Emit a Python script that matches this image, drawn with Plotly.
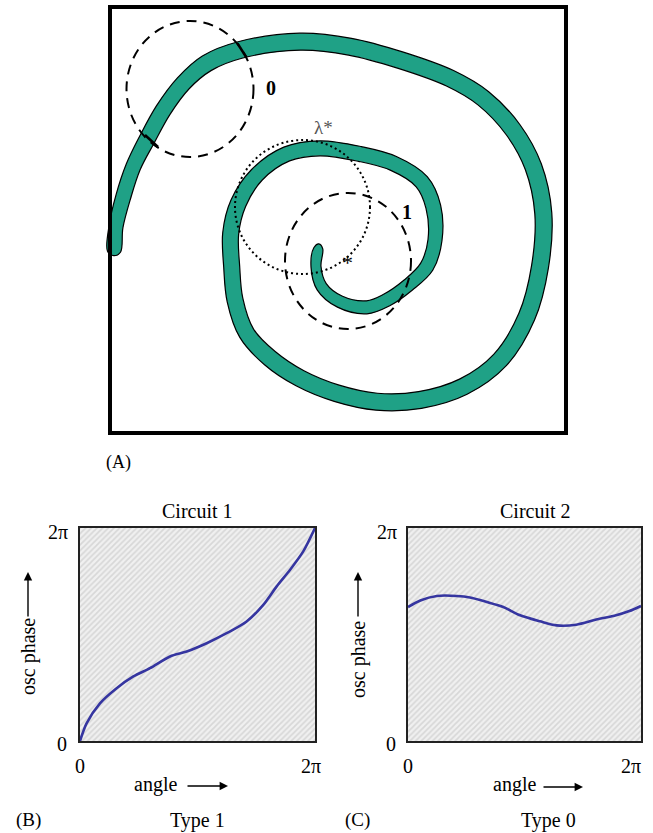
import numpy as np
import plotly.graph_objects as go

W, H = 653, 833
FONT = "Liberation Serif"

# ---------------- Panel A data (pixel-space diagram coordinates) ----------------
spiral_x = [318.3, 316, 321.7, 340, 366.7, 386.7, 408.3, 426.7, 435, 433.3, 421.7, 393.3, 360, 320,
            286.7, 256.7, 238.3, 230.7, 231.7, 235, 246.7, 270, 300, 336.7, 376.7, 420, 463.3, 500,
            526.7, 540, 543.3, 533.3, 513.3, 483.3, 450, 400, 350, 300, 240, 206.7, 183.3, 163.3,
            146.7, 133.3, 123.3, 116, 114]
spiral_y = [248.3, 266.7, 286.7, 301.7, 307.3, 300, 285, 266.7, 240, 206.7, 181.7, 163.3, 154, 148.3,
            154, 175, 203.3, 233.3, 266.7, 300, 333.3, 358.3, 378.3, 393.3, 401.7, 400, 386.7, 360,
            316.7, 266.7, 213.3, 166.7, 130, 98.3, 78.3, 60, 46.7, 41.7, 50, 63.3, 83.3, 110,
            140, 166.7, 196.7, 226.7, 251.7]
spiral_w = [9, 10, 11, 12, 13, 13, 13, 14, 14, 15, 15, 15, 15, 15,
            15, 15, 16, 16, 16, 16, 16, 17, 17, 17, 17, 17, 17, 17,
            17, 17, 17, 17, 17, 17, 17, 17, 17, 17, 17, 17, 16, 16,
            16, 15, 15, 14, 13]

box = dict(x0=110, y0=7, x1=566, y1=433)
circle_names = ["0", "1", "lambda"]
circle_cx = [190, 348, 302.5]
circle_cy = [89, 261, 207]
circle_rx = [63.5, 63, 67.5]
circle_ry = [68, 68, 67]
circle_dash = ["10px,7px", "10px,7px", "2px,3px"]

cut_x0 = [237.5, 145]
cut_y0 = [43.5, 135]
cut_x1 = [246.5, 158]
cut_y1 = [57.5, 147]

# ---------------- Panel B / C data (fractions of 2*pi) ----------------
b_angle = [0, 0.028, 0.085, 0.156, 0.227, 0.298, 0.383, 0.454, 0.539, 0.624, 0.709, 0.780, 0.837,
           0.894, 0.950, 1.0]
b_phase = [0, 0.083, 0.177, 0.248, 0.303, 0.342, 0.397, 0.420, 0.459, 0.506, 0.561, 0.639, 0.726,
           0.804, 0.890, 1.0]
c_angle = [0, 0.053, 0.124, 0.209, 0.266, 0.338, 0.409, 0.481, 0.566, 0.637, 0.722, 0.808, 0.893,
           0.950, 1.0]
c_phase = [0.629, 0.660, 0.681, 0.681, 0.674, 0.653, 0.629, 0.590, 0.562, 0.543, 0.546, 0.570,
           0.590, 0.610, 0.634]
tick_text = ["0", "2π"]

TEAL = "#1fa186"
CURVE = "#3535a0"

fig = go.Figure()

# ---- spiral band polygon built from centerline + widths ----
px = np.array(spiral_x)
py = np.array(spiral_y)
pw = np.array(spiral_w) / 2.0
tx = np.gradient(px)
ty = np.gradient(py)
tn = np.hypot(tx, ty)
tx, ty = tx / tn, ty / tn
nx, ny = -ty, tx
lx, ly = px + nx * pw, py + ny * pw
rx, ry = px - nx * pw, py - ny * pw
cap0 = (px[0] - tx[0] * pw[0], py[0] - ty[0] * pw[0])
cap1 = (px[-1] + tx[-1] * pw[-1] * 0.6, py[-1] + ty[-1] * pw[-1] * 0.6)
poly_x = [cap0[0]] + list(lx) + [cap1[0]] + list(rx[::-1]) + [cap0[0]]
poly_y = [cap0[1]] + list(ly) + [cap1[1]] + list(ry[::-1]) + [cap0[1]]
fig.add_trace(go.Scatter(x=poly_x, y=poly_y, mode="lines", fill="toself", fillcolor=TEAL,
                         line=dict(color="black", width=1.2, shape="spline", smoothing=1.0),
                         hoverinfo="skip", showlegend=False, xaxis="x", yaxis="y"))

# ---- hatched backgrounds for B and C ----
for xa, ya in [("x2", "y2"), ("x3", "y3")]:
    fig.add_trace(go.Scatter(x=[0, 1, 1, 0, 0], y=[0, 0, 1, 1, 0], mode="lines", fill="toself",
                             fillcolor="#f0f0f0",
                             fillpattern=dict(shape="/", fgcolor="#bdbdbd", bgcolor="#f0f0f0",
                                              size=4, solidity=0.4),
                             line=dict(width=0), hoverinfo="skip", showlegend=False,
                             xaxis=xa, yaxis=ya))

fig.add_trace(go.Scatter(x=b_angle, y=b_phase, mode="lines",
                         line=dict(color=CURVE, width=2.6, shape="spline", smoothing=0.8),
                         showlegend=False, xaxis="x2", yaxis="y2"))
fig.add_trace(go.Scatter(x=c_angle, y=c_phase, mode="lines",
                         line=dict(color=CURVE, width=2.6, shape="spline", smoothing=0.8),
                         showlegend=False, xaxis="x3", yaxis="y3"))

shapes = []
shapes.append(dict(type="rect", xref="x", yref="y", **box, line=dict(color="black", width=4)))
for cx, cy, rxx, ryy, d in zip(circle_cx, circle_cy, circle_rx, circle_ry, circle_dash):
    shapes.append(dict(type="circle", xref="x", yref="y", x0=cx - rxx, x1=cx + rxx,
                       y0=cy - ryy, y1=cy + ryy, line=dict(color="black", width=2, dash=d)))
for a, b, c, d in zip(cut_x0, cut_y0, cut_x1, cut_y1):
    shapes.append(dict(type="line", xref="x", yref="y", x0=a, y0=b, x1=c, y1=d,
                       line=dict(color="black", width=2.5)))

ann = []
def txt(x, y, s, size=20, color="black", **kw):
    ann.append(dict(x=x, y=y, xref="x", yref="y", text=s, showarrow=False,
                    font=dict(family=FONT, size=size, color=color), **kw))

txt(271, 88, "<b>0</b>", 20)
txt(407, 212, "<b>1</b>", 20)
txt(323, 127, "λ*", 19, color="#555555")
txt(347, 262, "*", 22)
txt(118, 462, "(A)", 18)

# panel B texts
txt(197, 511, "Circuit 1", 20)
txt(58, 532, "2π", 20)
txt(62, 744, "0", 20)
txt(80, 766, tick_text[0], 20)
txt(311, 766, tick_text[1], 20)
txt(155, 784, "angle", 20)
txt(28, 657, "osc phase", 20, textangle=-90)
txt(28, 820, "(B)", 19)
txt(197, 820, "Type 1", 20)
# panel C texts
txt(535, 511, "Circuit 2", 20)
txt(387, 532, "2π", 20)
txt(391, 744, "0", 20)
txt(408, 766, tick_text[0], 20)
txt(631, 766, tick_text[1], 20)
txt(514, 784, "angle", 20)
txt(358, 660, "osc phase", 20, textangle=-90)
txt(357, 820, "(C)", 19)
txt(548, 820, "Type 0", 20)

def arrow(x0, y0, x1, y1):
    ann.append(dict(x=x1, y=y1, ax=x0, ay=y0, xref="x", yref="y", axref="x", ayref="y",
                    text="", showarrow=True, arrowhead=2, arrowsize=1.2, arrowwidth=1.4,
                    arrowcolor="black"))

arrow(186, 786, 228, 786)
arrow(542, 787, 583, 787)
arrow(28, 618, 28, 572)
arrow(358, 618, 358, 572)

axcommon = dict(range=[0, 1], showgrid=False, zeroline=False, showticklabels=False,
                showline=True, mirror=True, linecolor="#222", linewidth=1.5, fixedrange=True)
fig.update_layout(
    width=W, height=H, margin=dict(l=0, r=0, t=0, b=0),
    paper_bgcolor="white", plot_bgcolor="rgba(0,0,0,0)",
    xaxis=dict(domain=[0, 1], range=[0, W], visible=False, fixedrange=True),
    yaxis=dict(domain=[0, 1], range=[H, 0], visible=False, fixedrange=True),
    xaxis2=dict(domain=[80 / W, 315 / W], anchor="y2", **axcommon),
    yaxis2=dict(domain=[(H - 741) / H, (H - 528) / H], anchor="x2", **axcommon),
    xaxis3=dict(domain=[408 / W, 641 / W], anchor="y3", **axcommon),
    yaxis3=dict(domain=[(H - 741) / H, (H - 528) / H], anchor="x3", **axcommon),
    shapes=shapes, annotations=ann,
)

fig.write_html("out.html", config={"displayModeBar": False},
               post_script="document.body.style.margin='0';document.body.style.overflow='hidden';")
